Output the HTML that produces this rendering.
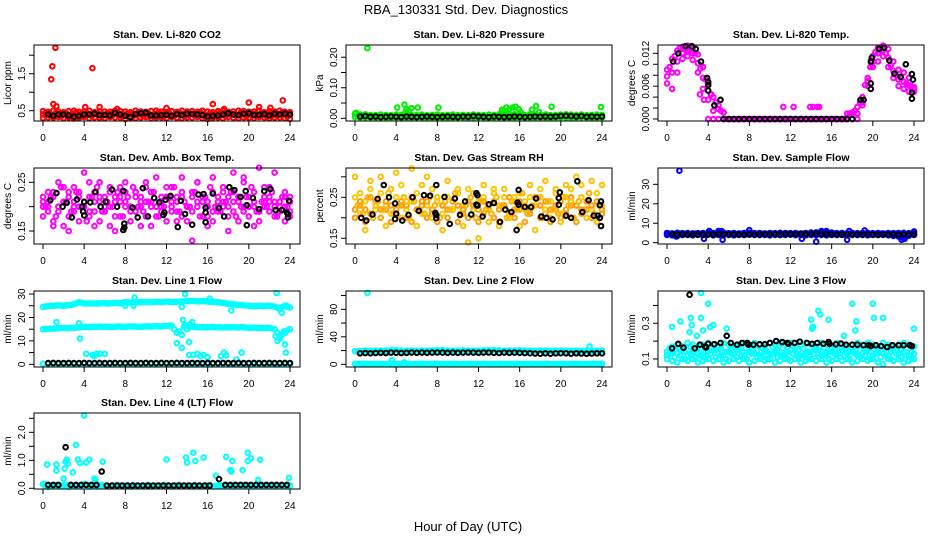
<!DOCTYPE html>
<html><head><meta charset="utf-8"><style>
html,body{margin:0;padding:0;background:#fff}
svg{display:block;font-family:"Liberation Sans",Arial,sans-serif}
</style></head><body>
<svg id="chart" width="936" height="540" viewBox="0 0 936 540" xmlns="http://www.w3.org/2000/svg">
<rect x="0" y="0" width="936" height="540" fill="#fff"/>
<text x="466" y="14" font-size="13" text-anchor="middle">RBA_130331  Std. Dev. Diagnostics</text>
<text x="468" y="531" font-size="13" text-anchor="middle">Hour of Day (UTC)</text>
</svg>
<script>
// ---- shared time grid (hours) ----
const t49 = [0,0.5,1,1.5,2,2.5,3,3.5,4,4.5,5,5.5,6,6.5,7,7.5,8,8.5,9,9.5,10,10.5,11,11.5,12,12.5,13,13.5,14,14.5,15,15.5,16,16.5,17,17.5,18,18.5,19,19.5,20,20.5,21,21.5,22,22.5,23,23.5,24];
const tq = [0.25,0.75,1.25,1.75,2.25,2.75,3.25,3.75,4.25,4.75,5.25,5.75,6.25,6.75,7.25,7.75,8.25,8.75,9.25,9.75,10.25,10.75,11.25,11.75,12.25,12.75,13.25,13.75,14.25,14.75,15.25,15.75,16.25,16.75,17.25,17.75,18.25,18.75,19.25,19.75,20.25,20.75,21.25,21.75,22.25,22.75,23.25,23.75];
const xTicks = [0,4,8,12,16,20,24];

// ---- Panel 1: CO2 ----
const co2Hi = [0.49,0.47,0.5,0.48,0.46,0.49,0.5,0.47,0.48,0.5,0.46,0.49,0.48,0.47,0.5,0.49,0.48,0.46,0.5,0.48,0.47,0.49,0.5,0.48,0.46,0.49,0.47,0.5,0.48,0.49,0.47,0.5,0.48,0.46,0.49,0.5,0.47,0.48,0.5,0.49,0.47,0.48,0.5,0.46,0.49,0.48,0.5,0.47,0.46];
const co2Mid = [0.4,0.42,0.39,0.41,0.4,0.38,0.42,0.4,0.41,0.39,0.42,0.4,0.38,0.41,0.42,0.39,0.4,0.41,0.38,0.42,0.4,0.39,0.41,0.4,0.42,0.38,0.4,0.41,0.39,0.42,0.4,0.41,0.38,0.4,0.42,0.39,0.41,0.4,0.38,0.42,0.4,0.41,0.39,0.4,0.42,0.38,0.41,0.4,0.39];
const co2Lo = [0.3,0.32,0.31,0.33,0.3,0.32,0.29,0.31,0.33,0.3,0.32,0.31,0.3,0.33,0.31,0.32,0.28,0.31,0.3,0.32,0.33,0.3,0.31,0.32,0.3,0.33,0.31,0.3,0.32,0.31,0.33,0.3,0.28,0.31,0.32,0.3,0.33,0.31,0.3,0.32,0.31,0.3,0.33,0.32,0.3,0.31,0.32,0.3,0.28];
const co2Q = [0.44,0.36,0.45,0.35,0.43,0.37,0.46,0.34,0.44,0.36,0.45,0.35,0.43,0.37,0.46,0.34,0.44,0.36,0.45,0.35,0.43,0.37,0.46,0.34,0.44,0.36,0.45,0.35,0.43,0.37,0.46,0.34,0.44,0.36,0.45,0.35,0.43,0.37,0.46,0.34,0.44,0.36,0.45,0.35,0.43,0.37,0.46,0.34];
const co2OutX = [0.8,0.9,1.2,4.8,1.0,1.3,4.1,5.5,7.2,16.5,20,21,22.1,23.3,12,17.6];
const co2OutY = [1.35,1.7,2.2,1.65,0.68,0.62,0.6,0.6,0.55,0.68,0.72,0.6,0.58,0.78,0.57,0.55];
const co2Blk = [0.4,0.36,0.4,0.4,0.37,0.34,0.36,0.4,0.4,0.42,0.38,0.39,0.37,0.44,0.4,0.36,0.33,0.41,0.43,0.45,0.37,0.37,0.38,0.39,0.36,0.41,0.38,0.42,0.41,0.4,0.38,0.34,0.36,0.37,0.4,0.43,0.4,0.38,0.42,0.43,0.38,0.39,0.41,0.37,0.42,0.4,0.42,0.4];

// ---- Panel 2: Pressure ----
const presHi = [0.015,0.012,0.013,0.011,0.01,0.012,0.011,0.01,0.012,0.011,0.013,0.01,0.011,0.012,0.01,0.011,0.012,0.01,0.011,0.012,0.01,0.011,0.01,0.012,0.011,0.01,0.012,0.011,0.013,0.012,0.014,0.013,0.012,0.011,0.013,0.012,0.011,0.012,0.01,0.011,0.012,0.013,0.012,0.011,0.012,0.01,0.011,0.012,0.011];
const presLo = [0.004,0.003,0.002,0.003,0.002,0.003,0.001,0.002,0.003,0.002,0.001,0.002,0.003,0.002,0.001,0.002,0.003,0.002,0.001,0.002,0.003,0.002,0.001,0.002,0.003,0.002,0.001,0.002,0.003,0.002,0.001,0.002,0.003,0.002,0.001,0.002,0.003,0.002,0.001,0.002,0.003,0.002,0.001,0.002,0.003,0.002,0.001,0.002,0.003];
const presQ = [0.008,0.006,0.007,0.005,0.008,0.006,0.007,0.005,0.008,0.006,0.007,0.005,0.008,0.006,0.007,0.005,0.008,0.006,0.007,0.005,0.008,0.006,0.007,0.005,0.008,0.006,0.007,0.005,0.008,0.006,0.007,0.005,0.008,0.006,0.007,0.005,0.008,0.006,0.007,0.005,0.008,0.006,0.007,0.005,0.008,0.006,0.007,0.005];
const presOutX = [1.2,0.1,4.1,4.8,5.0,5.2,5.5,6.1,8.1,14.3,14.7,15.0,15.3,15.6,15.9,17.2,17.6,17.9,19.1,23.9,4.9,18.6,14.5,16.1];
const presOutY = [0.23,0.018,0.035,0.045,0.03,0.025,0.033,0.035,0.035,0.028,0.035,0.03,0.035,0.038,0.03,0.028,0.04,0.02,0.038,0.037,0.02,0.012,0.025,0.02];
const presBlk = [0.006,0.007,0.005,0.006,0.004,0.005,0.006,0.005,0.004,0.006,0.005,0.004,0.005,0.006,0.005,0.004,0.005,0.006,0.005,0.004,0.006,0.005,0.007,0.006,0.005,0.004,0.006,0.005,0.004,0.005,0.006,0.005,0.004,0.005,0.006,0.005,0.006,0.005,0.006,0.007,0.008,0.007,0.006,0.007,0.005,0.006,0.005,0.006];

// ---- Panel 3: Li-820 Temp ----
const tmpHi = [0.009,0.011,0.0125,0.0132,0.0134,0.013,0.0118,0.0095,0.0065,0.004,0.0025,0.0012,0,0,0,0,0,0,0,0,0,0,0,0,0,0,0,0,0,0,0,0,0,0,0,0,0.0012,0.0022,0.004,0.0075,0.0115,0.013,0.0134,0.0128,0.0105,0.009,0.0085,0.0075,0.0055];
const tmpMid = [0.0078,0.0085,0.0105,0.012,0.0125,0.012,0.0102,0.0075,0,0,0,0,0,0,0,0,0,0,0,0,0,0,0,0,0,0,0,0,0,0,0,0,0,0,0,0,0,0,0.003,0.007,0.0105,0.012,0.0125,0.0112,0.0088,0.0072,0.0068,0.0062,0.0058];
const tmpLo = [0.0065,0.0055,0.0085,0.011,0.0115,0.0108,0.0085,0.0055,0.0035,0.0015,0.0018,0.0012,0,0,0,0,0,0,0,0,0,0,0,0,0,0,0,0,0,0,0,0,0,0,0,0.001,0.001,0.001,0.0025,0.006,0.0095,0.0105,0.0115,0.0095,0.0075,0.006,0.0055,0.005,0.005];
const tmpQ = [0.0095,0.0115,0.013,0.0128,0.0125,0.012,0.0092,0.0072,0.0045,0.003,0.0015,0,0,0,0,0,0,0,0,0,0,0,0,0,0,0,0,0,0,0,0,0,0,0,0,0.001,0.0015,0.003,0.0062,0.0095,0.0122,0.0128,0.012,0.0098,0.008,0.0075,0.0065,0.006];
const tmpOutX = [11.3,12.3,13.9,14.2,14.6,14.8,3.2,3.6,4.3];
const tmpOutY = [0.0022,0.0022,0.0022,0.0022,0.0022,0.0022,0.0045,0.0035,0.0045];
const tmpBlkX = [0.6,1.1,1.8,2.4,2.8,3.3,3.9,4.0,4.0,4.0,4.6,5.2,5.5,6,6.5,7,7.5,8,8.5,9,9.5,10,10.5,11,11.5,12,12.5,13,13.5,14,14.5,15,15.5,16,16.5,17,17.5,18,18.8,19.1,19.8,19.8,19.9,19.8,20.6,21.1,21.6,22.1,22.7,23.2,23.8,23.9,23.8,23.8];
const tmpBlkY = [0.0105,0.012,0.0133,0.0133,0.0128,0.0105,0.0075,0.0068,0.0062,0.0052,0.0025,0.0035,0,0,0,0,0,0,0,0,0,0,0,0,0,0,0,0,0,0,0,0,0,0,0,0,0,0,0.0035,0.0035,0.0065,0.0105,0.0112,0.0055,0.0128,0.013,0.0107,0.0083,0.0077,0.01,0.0082,0.0072,0.0048,0.0037];

// ---- Panel 4: Amb. Box Temp ----
const ambA = [0.22,0.19,0.23,0.2,0.24,0.18,0.21,0.23,0.2,0.25,0.19,0.22,0.2,0.23,0.18,0.24,0.21,0.19,0.23,0.22,0.25,0.2,0.18,0.22,0.24,0.21,0.19,0.23,0.2,0.22,0.25,0.21,0.18,0.23,0.2,0.24,0.22,0.19,0.21,0.26,0.2,0.23,0.19,0.22,0.24,0.2,0.21,0.23,0.19];
const ambB = [0.18,0.21,0.17,0.2,0.16,0.22,0.19,0.17,0.2,0.18,0.21,0.17,0.19,0.16,0.21,0.18,0.2,0.17,0.19,0.21,0.18,0.16,0.2,0.19,0.17,0.2,0.22,0.18,0.17,0.19,0.21,0.18,0.2,0.17,0.19,0.2,0.18,0.21,0.17,0.19,0.18,0.2,0.17,0.21,0.19,0.18,0.2,0.17,0.18];
const ambC = [0.2,0.23,0.16,0.25,0.21,0.15,0.24,0.2,0.27,0.22,0.16,0.25,0.2,0.24,0.15,0.22,0.25,0.2,0.23,0.16,0.24,0.21,0.26,0.2,0.22,0.24,0.17,0.26,0.2,0.13,0.25,0.22,0.16,0.26,0.21,0.23,0.15,0.27,0.22,0.25,0.2,0.16,0.28,0.24,0.21,0.27,0.19,0.22,0.21];
const ambD = [0.21,0.2,0.22,0.19,0.21,0.23,0.2,0.22,0.21,0.19,0.23,0.21,0.22,0.2,0.22,0.21,0.23,0.2,0.22,0.2,0.21,0.23,0.2,0.21,0.22,0.19,0.21,0.22,0.2,0.23,0.2,0.22,0.21,0.19,0.22,0.21,0.2,0.23,0.22,0.2,0.22,0.21,0.19,0.2,0.22,0.21,0.2,0.2,0.22];
const ambQ = [0.2,0.22,0.18,0.24,0.21,0.19,0.23,0.2,0.17,0.22,0.24,0.19,0.21,0.2,0.23,0.18,0.22,0.24,0.2,0.19,0.21,0.23,0.18,0.2,0.22,0.24,0.19,0.21,0.2,0.23,0.18,0.22,0.24,0.2,0.19,0.21,0.23,0.18,0.2,0.22,0.24,0.19,0.21,0.2,0.23,0.18,0.22,0.2];
const ambBlkX = [0.7,1.3,1.9,2.3,2.8,3.3,3.8,3.9,4.0,4.0,4.6,5.1,5.6,6.1,6.7,7.2,7.8,7.9,7.9,7.8,8.7,9.2,9.7,10.2,10.8,11.3,11.9,11.8,11.7,12.4,13.1,13.4,13.8,14.5,15.1,15.6,15.8,15.8,15.8,16.5,17.1,17.6,18.1,18.6,19.2,19.7,19.8,19.8,20.4,21.0,21.5,22.1,22.6,23.2,23.7,23.8,23.8,23.9];
const ambBlkY = [0.213,0.228,0.2,0.208,0.178,0.215,0.2,0.19,0.21,0.182,0.209,0.23,0.2,0.21,0.235,0.2,0.232,0.165,0.157,0.152,0.198,0.178,0.238,0.18,0.218,0.209,0.214,0.188,0.183,0.222,0.158,0.212,0.185,0.163,0.225,0.226,0.198,0.188,0.168,0.227,0.197,0.18,0.24,0.234,0.22,0.232,0.203,0.162,0.218,0.195,0.232,0.236,0.193,0.193,0.188,0.185,0.178,0.212];

// ---- Panel 5: Gas Stream RH ----
const rhA = [0.25,0.21,0.24,0.27,0.22,0.26,0.23,0.21,0.25,0.28,0.22,0.24,0.26,0.21,0.23,0.27,0.24,0.21,0.25,0.22,0.26,0.23,0.27,0.22,0.24,0.25,0.22,0.27,0.23,0.25,0.21,0.24,0.26,0.22,0.25,0.23,0.27,0.22,0.24,0.26,0.21,0.25,0.27,0.23,0.28,0.24,0.22,0.26,0.23];
const rhB = [0.2,0.23,0.19,0.21,0.24,0.2,0.22,0.19,0.21,0.23,0.2,0.19,0.22,0.24,0.2,0.21,0.19,0.23,0.2,0.22,0.19,0.21,0.2,0.23,0.19,0.21,0.22,0.2,0.19,0.23,0.21,0.2,0.22,0.19,0.21,0.23,0.2,0.21,0.19,0.22,0.2,0.21,0.23,0.19,0.21,0.22,0.2,0.19,0.21];
const rhC = [0.3,0.26,0.17,0.29,0.23,0.3,0.18,0.27,0.31,0.2,0.24,0.32,0.18,0.28,0.3,0.2,0.25,0.17,0.29,0.22,0.27,0.18,0.14,0.26,0.15,0.28,0.19,0.26,0.18,0.27,0.2,0.25,0.18,0.24,0.28,0.17,0.25,0.29,0.2,0.27,0.19,0.28,0.24,0.3,0.25,0.2,0.29,0.19,0.28];
const rhD = [0.22,0.24,0.22,0.25,0.23,0.22,0.24,0.23,0.22,0.24,0.23,0.25,0.22,0.23,0.24,0.22,0.25,0.23,0.22,0.24,0.23,0.22,0.24,0.23,0.22,0.24,0.23,0.24,0.22,0.23,0.25,0.22,0.24,0.23,0.22,0.25,0.23,0.24,0.22,0.23,0.24,0.22,0.25,0.23,0.22,0.24,0.23,0.24,0.22];
const rhQ = [0.23,0.21,0.25,0.2,0.24,0.22,0.26,0.21,0.23,0.25,0.2,0.24,0.22,0.21,0.25,0.23,0.2,0.24,0.22,0.26,0.21,0.23,0.25,0.2,0.24,0.22,0.21,0.25,0.23,0.2,0.24,0.22,0.26,0.21,0.23,0.25,0.2,0.24,0.22,0.21,0.25,0.23,0.2,0.24,0.22,0.26,0.21,0.23];
const rhBlkX = [0.6,1.1,1.7,2.2,2.8,3.3,3.9,4.0,3.9,4.6,5.2,5.6,6.2,6.7,7.3,7.8,7.9,7.9,7.9,8.7,9.2,9.7,10.2,10.7,11.3,11.8,11.9,11.9,11.8,12.4,13.0,13.5,14.1,14.6,15.2,15.7,15.8,15.9,15.9,16.5,17.1,17.6,18.1,18.6,19.2,19.8,19.8,19.9,20.5,21.0,21.6,22.1,22.7,23.2,23.6,23.8,23.8,23.9,23.9];
const rhBlkY = [0.2,0.193,0.208,0.246,0.28,0.25,0.235,0.21,0.197,0.193,0.207,0.25,0.217,0.255,0.254,0.212,0.207,0.199,0.28,0.251,0.185,0.247,0.207,0.24,0.208,0.232,0.23,0.255,0.26,0.203,0.233,0.236,0.19,0.22,0.214,0.17,0.237,0.232,0.268,0.226,0.226,0.247,0.203,0.2,0.196,0.232,0.248,0.262,0.205,0.2,0.289,0.214,0.243,0.205,0.205,0.231,0.2,0.18,0.24];

// ---- Panel 6: Sample Flow ----
const sfHi = [5,4.8,5.1,4.9,5,4.8,4.9,5,5.2,5,5.3,5.1,4.9,5,4.8,5,5.1,4.9,5,4.8,5,4.9,5.1,5,4.9,5,4.8,5,5.2,5.3,5.5,5.4,5.2,4.9,5,4.8,5,4.9,5,5.1,4.9,5,4.8,5,4.9,5,5.1,4.9,5.2];
const sfLo = [4,3.8,3.5,3.9,4,3.8,4,3.9,4.1,3.8,4,3.9,4,3.8,4,3.9,4.1,4,3.9,4,3.8,4,3.9,4,4.1,3.9,4,3.8,4,3.9,4,3.8,4,3.9,4,3.8,4,3.9,4,3.8,4,3.9,4,3.8,3.5,3.2,3,3.6,4];
const sfQ = [4.5,4.4,4.6,4.5,4.4,4.6,4.5,4.4,4.6,4.5,4.4,4.6,4.5,4.4,4.6,4.5,4.4,4.6,4.5,4.4,4.6,4.5,4.4,4.6,4.5,4.4,4.6,4.5,4.4,4.6,4.5,4.4,4.6,4.5,4.4,4.6,4.5,4.4,4.6,4.5,4.4,4.6,4.5,4.4,4.6,4.5,4.4,4.6];
const sfOutX = [1.2,3.6,5.4,13.1,14.5,17.5,22.8,22.9,23.1,4.1,5.0,5.3,8.0,15.0,15.5,17.7,19.2,24.0,0.1,0.9];
const sfOutY = [37,2,1.5,2,0.5,1.5,1.5,2.5,2,6,6,6,6.5,6,6,6,6.3,5.8,4.8,3.2];
const sfBlk = [4.4,4.2,4.3,4.2,4.3,4.1,4.2,4.3,4.2,4.4,4.3,4.2,4.3,4.2,4.1,4.3,4.2,4.3,4.4,4.3,4.4,4.3,4.5,4.4,4.3,4.4,4.5,4.4,4.6,4.5,4.4,4.3,4.3,4.2,4.3,4.2,4.3,4.2,4.3,4.1,4.2,4.3,4.2,4.3,4.2,4.3,4.4,4.3];

// ---- Panel 7: Line 1 Flow ----
const l1Top = [24.5,24.8,25,25.2,25,25.3,25.6,26.5,26,26,25.9,26,26.1,26,26.2,26,26.5,26.4,26.6,26.5,26.6,26.5,26.7,26.6,26.8,26.6,26.7,26.8,27,27.1,26.9,27,26.8,26.6,26.5,26.2,25.8,25.6,25.4,25.2,25,24.8,25,24.9,25,24.6,23.5,25,24.2];
const l1TopQ = [24.7,25,25.1,25.1,25.2,25.4,26,26.3,26,26,26,26.1,26,26.1,26.2,26.4,26.5,26.5,26.5,26.6,26.5,26.6,26.7,26.7,26.7,26.6,26.8,26.9,27,27,26.9,26.9,26.7,26.5,26.4,26,25.7,25.5,25.3,25.1,24.9,24.9,25,25,24.8,24.2,24.5,24.6];
const l1Mid = [15,15.2,15.3,15.4,15.5,15.5,15.6,15.8,16,15.9,16,16.1,16,15.9,16,16.1,16,16.2,16.1,16,16.2,16.1,16.3,16.2,16.4,16.5,13.5,12.5,16.5,16,15.8,15.9,15.8,15.9,15.8,15.7,15.8,15.9,15.7,15.8,15.6,15.7,15.6,15.5,15.6,15,12,13.5,15];
const l1MidQ = [15.1,15.2,15.3,15.5,15.5,15.6,15.7,15.9,16,16,16,16,16,16,16.1,16,16.1,16.1,16,16.1,16.2,16.2,16.2,16.3,16.5,15,14,16.8,16.2,15.9,15.8,15.8,15.9,15.8,15.8,15.8,15.8,15.8,15.8,15.7,15.6,15.6,15.5,15.6,15.3,13.5,12.8,14.5];
const l1Zero = [0.2,0.1,0.2,0.1,0.1,0.2,0.1,0.1,0.2,0.1,0.2,0.1,0.1,0.2,0.1,0.2,0.1,0.1,0.2,0.1,0.2,0.1,0.1,0.2,0.1,0.2,0.1,0.1,0.2,0.1,0.2,0.1,0.1,0.2,0.1,0.2,0.1,0.1,0.2,0.1,0.2,0.1,0.1,0.2,0.1,0.2,0.1,0.1,0.2];
const l1OutX = [1.3,3.5,3.6,4.2,4.8,5.0,5.2,5.5,6.0,8.0,8.9,8.8,13.0,13.5,13.6,13.8,13.5,14.0,14.2,14.2,14.5,14.6,15.0,15.3,15.6,16.0,16.2,17.3,17.6,17.8,18.3,18.8,19.3,22.7,22.6,22.8,23.0,23.2,23.5,23.6,23.4,23.7,14.3,13.7];
const l1OutY = [18,17.5,11,4.5,4,3.5,4.5,4.5,4.5,25,28.5,25,9,7,19,30,24.5,15,9.5,4,18,4,4.5,3.5,4,3,28,3.5,5,3.8,23,2,5,30.5,12,10,11,22,8.5,5,14,25,17,16];
const l1Blk = [0.5,0.6,0.5,0.5,0.6,0.5,0.5,0.6,0.5,0.5,0.6,0.5,0.5,0.6,0.5,0.5,0.6,0.5,0.5,0.6,0.5,0.5,0.6,0.5,0.5,0.6,0.5,0.5,0.6,0.5,0.5,0.6,0.5,0.5,0.6,0.5,0.5,0.6,0.5,0.5,0.6,0.5,0.5,0.6,0.5,0.5,0.6,0.5];

// ---- Panel 8: Line 2 Flow ----
const l2Top = [19,19.5,20,19.5,20,19.8,20,21,20.5,20,19.8,20,19.5,20,19.8,20,20.5,20.8,20,19.8,20,20.2,20,19.8,20,20.2,20.5,20.8,20.4,20,20.2,20,20.5,20,19.8,19.5,19.8,20,19.6,19.8,20,19.6,19.5,19.8,19.6,19.8,19.5,19.8,20];
const l2TopQ = [18.5,19,19.2,19,19.3,19.1,19.5,20,19.6,19.4,19.3,19.1,19.4,19.2,19.6,19.8,20,19.6,19.3,19.5,19.7,19.4,19.2,19.5,19.7,20,20.1,19.8,19.5,19.6,19.4,19.8,19.5,19.2,19,19.1,19.4,19.2,19.3,19.5,19.2,19,19.3,19.1,19.2,19,19.2,19.4];
const l2Bot = [0.8,0.5,0.8,0.6,0.8,0.5,0.6,0.8,0.5,0.6,0.8,0.5,0.6,0.8,0.5,0.6,0.8,0.5,0.6,0.8,0.5,0.6,0.8,0.5,0.6,0.8,0.5,0.6,0.8,0.5,0.6,0.8,0.5,0.6,0.8,0.5,0.6,0.8,0.5,0.6,0.8,0.5,0.6,0.8,0.5,0.6,0.8,0.5,0.8];
const l2BotQ = [0.6,0.7,0.5,0.6,0.7,0.5,0.6,0.7,0.5,0.6,0.7,0.5,0.6,0.7,0.5,0.6,0.7,0.5,0.6,0.7,0.5,0.6,0.7,0.5,0.6,0.7,0.5,0.6,0.7,0.5,0.6,0.7,0.5,0.6,0.7,0.5,0.6,0.7,0.5,0.6,0.7,0.5,0.6,0.7,0.5,0.6,0.7,0.5];
const l2OutX = [1.2,3.6,4.8,22.8];
const l2OutY = [104,6,3,26];
const l2Blk = [16,16.5,16,16.5,16.8,16.5,17,16.8,16.5,16.8,17,16.8,17,16.8,17,17.2,17,16.8,17,16.8,17,17.2,17,16.8,17,17.2,16.8,16.5,17,16.8,17,16.8,16.5,16.2,15.8,15.5,16,15.5,16,16.2,16,15.5,16,15.8,15.5,15.8,16,16];

// ---- Panel 9: Line 3 Flow ----
const l3Hi = [0.14,0.17,0.18,0.17,0.19,0.18,0.17,0.18,0.19,0.18,0.17,0.19,0.18,0.17,0.18,0.19,0.18,0.19,0.18,0.17,0.19,0.18,0.19,0.18,0.19,0.17,0.18,0.19,0.18,0.17,0.19,0.18,0.17,0.19,0.18,0.17,0.18,0.19,0.18,0.19,0.18,0.17,0.19,0.18,0.17,0.18,0.19,0.18,0.17];
const l3Mid = [0.12,0.14,0.13,0.15,0.12,0.14,0.13,0.12,0.14,0.15,0.13,0.12,0.14,0.13,0.15,0.12,0.14,0.13,0.12,0.15,0.13,0.14,0.12,0.13,0.15,0.14,0.12,0.13,0.14,0.15,0.12,0.13,0.14,0.12,0.15,0.13,0.14,0.12,0.13,0.15,0.12,0.14,0.13,0.12,0.15,0.13,0.14,0.12,0.13];
const l3Lo = [0.1,0.09,0.08,0.1,0.09,0.1,0.08,0.09,0.1,0.09,0.1,0.08,0.09,0.1,0.09,0.1,0.08,0.09,0.1,0.09,0.1,0.08,0.09,0.1,0.09,0.1,0.08,0.09,0.1,0.09,0.1,0.08,0.09,0.1,0.09,0.1,0.08,0.09,0.1,0.09,0.1,0.08,0.07,0.1,0.09,0.1,0.08,0.09,0.1];
const l3Q1 = [0.16,0.11,0.16,0.1,0.17,0.11,0.16,0.1,0.17,0.11,0.16,0.1,0.17,0.11,0.16,0.1,0.17,0.11,0.16,0.1,0.17,0.11,0.16,0.1,0.17,0.11,0.16,0.1,0.17,0.11,0.16,0.1,0.17,0.11,0.16,0.1,0.17,0.11,0.16,0.1,0.17,0.11,0.16,0.1,0.17,0.11,0.16,0.1];
const l3Q2 = [0.13,0.15,0.12,0.14,0.13,0.15,0.12,0.14,0.13,0.15,0.12,0.14,0.13,0.15,0.12,0.14,0.13,0.15,0.12,0.14,0.13,0.15,0.12,0.14,0.13,0.15,0.12,0.14,0.13,0.15,0.12,0.14,0.13,0.15,0.12,0.14,0.13,0.15,0.12,0.14,0.13,0.15,0.12,0.14,0.13,0.15,0.12,0.14];
const l3OutX = [0.5,1.3,2.2,2.3,2.4,2.9,3.3,3.3,3.5,4.0,4.2,4.5,5.8,14.0,14.1,14.2,14.7,14.9,15.7,17.2,18.0,18.3,18.4,20.0,20.1,21.0,24.0];
const l3OutY = [0.28,0.31,0.25,0.33,0.29,0.23,0.47,0.33,0.26,0.41,0.28,0.29,0.27,0.32,0.27,0.28,0.37,0.35,0.32,0.23,0.41,0.26,0.31,0.41,0.33,0.33,0.27];
const l3BlkX = [0.5,1.1,1.6,2.2,2.7,3.2,3.7,3.8,4.0,4.6,5.2,5.8,6.2,6.8,7.3,7.8,7.9,8.4,9,9.5,10,10.6,11.2,11.7,11.8,12.4,12.9,13.6,14.1,14.6,15.2,15.7,15.8,16.4,16.9,17.4,18,18.5,19.1,19.6,19.8,20.3,20.8,21.4,21.9,22.5,23,23.6,23.8];
const l3BlkY = [0.16,0.185,0.163,0.46,0.16,0.18,0.17,0.165,0.185,0.183,0.19,0.23,0.19,0.18,0.19,0.19,0.18,0.18,0.183,0.183,0.19,0.2,0.195,0.19,0.185,0.19,0.197,0.19,0.185,0.19,0.185,0.195,0.185,0.182,0.187,0.18,0.18,0.18,0.177,0.177,0.172,0.177,0.172,0.167,0.177,0.177,0.177,0.177,0.172];

// ---- Panel 10: Line 4 (LT) Flow ----
const l4Band = [0.15,0.05,0.1,0.08,0.12,0.05,0.1,0.08,0.15,0.06,0.1,0.08,0.1,0.06,0.1,0.08,0.1,0.06,0.1,0.08,0.1,0.06,0.1,0.08,0.1,0.06,0.1,0.08,0.1,0.06,0.1,0.08,0.1,0.06,0.1,0.08,0.1,0.06,0.1,0.08,0.1,0.06,0.1,0.08,0.1,0.06,0.1,0.08,0.1];
const l4BandQ = [0.08,0.1,0.12,0.08,0.1,0.12,0.08,0.1,0.12,0.08,0.1,0.12,0.08,0.1,0.12,0.08,0.1,0.12,0.08,0.1,0.12,0.08,0.1,0.12,0.08,0.1,0.12,0.08,0.1,0.12,0.08,0.1,0.12,0.08,0.1,0.12,0.08,0.1,0.12,0.08,0.1,0.12,0.08,0.1,0.12,0.08,0.1,0.12];
const l4OutX = [0.1,0.4,1.3,1.3,2.0,2.1,2.2,2.3,2.4,2.9,3.2,3.4,3.6,4.0,4.2,4.5,5.0,5.1,5.8,12.0,13.9,14.0,14.6,14.8,15.6,16.8,17.8,18.2,18.3,18.4,19.4,19.9,19.9,20.2,20.9,21.1,23.9];
const l4OutY = [0.15,0.85,0.85,0.63,0.35,0.7,0.95,1.02,0.88,0.57,1.55,1.03,0.9,2.6,0.92,1.02,0.35,0.28,0.95,1.03,1.1,0.92,1.27,0.98,1.1,0.45,1.12,0.65,0.6,0.97,0.65,1.27,0.98,1.07,0.3,1.02,0.37];
const l4BlkX = [0.5,1,1.5,2.2,2.7,3.2,3.7,4.2,4.7,5.2,5.7,6.2,6.7,7.2,7.7,8.2,8.7,9.2,9.7,10.2,10.7,11.2,11.7,12.2,12.7,13.2,13.7,14.2,14.7,15.2,15.7,16.2,17.1,17.7,18.2,18.7,19.2,19.7,20.2,20.7,21.2,21.7,22.2,22.7,23.2,23.7];
const l4BlkY = [0.12,0.12,0.12,1.47,0.12,0.12,0.12,0.12,0.12,0.12,0.6,0.1,0.1,0.1,0.1,0.1,0.1,0.1,0.1,0.1,0.1,0.1,0.1,0.1,0.1,0.1,0.1,0.1,0.1,0.1,0.1,0.1,0.33,0.12,0.12,0.12,0.12,0.12,0.12,0.12,0.12,0.12,0.12,0.12,0.12,0.12];

// ================= rendering =================
const svg = document.getElementById('chart');
const NS = 'http://www.w3.org/2000/svg';
const COLS = [34, 346, 658];
const ROWS = [45, 168, 291, 413];
const BW = 266, BH = 76;

function mk(tag, attrs, parent) {
  const e = document.createElementNS(NS, tag);
  for (const k in attrs) e.setAttribute(k, attrs[k]);
  (parent || svg).appendChild(e);
  return e;
}

const panels = [
  {key:'co2', title:'Stan. Dev. Li-820 CO2', ylab:'Licor ppm', col:0, row:0, ymin:0.222, ymax:2.276, ticks:[0.5,1.0,1.5,2.0], labels:['0.5','1.5'], labelVals:[0.5,1.5],
   series:[{x:t49,y:co2Lo,c:'#ff0000'},{x:t49,y:co2Mid,c:'#ff0000'},{x:t49,y:co2Hi,c:'#ff0000'},{x:tq,y:co2Q,c:'#ff0000'},{x:co2OutX,y:co2OutY,c:'#ff0000'},{x:t49.slice(1),y:co2Blk,c:'#000'}]},
  {key:'pressure', title:'Stan. Dev. Li-820 Pressure', ylab:'kPa', col:1, row:0, ymin:-0.0089, ymax:0.24, ticks:[0,0.05,0.1,0.15,0.2], labels:['0.00','0.10','0.20'], labelVals:[0,0.1,0.2],
   series:[{x:t49,y:presLo,c:'#00ee00'},{x:t49,y:presHi,c:'#00ee00'},{x:tq,y:presQ,c:'#00ee00'},{x:presOutX,y:presOutY,c:'#00ee00'},{x:t49.slice(1),y:presBlk,c:'#000'}]},
  {key:'li820-temp', title:'Stan. Dev. Li-820 Temp.', ylab:'degrees C', col:2, row:0, ymin:-0.00037, ymax:0.01352, ticks:[0,0.002,0.004,0.006,0.008,0.01,0.012], labels:['0.000','0.006','0.012'], labelVals:[0,0.006,0.012],
   series:[{x:t49,y:tmpLo,c:'#ff00ff'},{x:t49,y:tmpMid,c:'#ff00ff'},{x:t49,y:tmpHi,c:'#ff00ff'},{x:tq,y:tmpQ,c:'#ff00ff'},{x:tmpOutX,y:tmpOutY,c:'#ff00ff'},{x:tmpBlkX,y:tmpBlkY,c:'#000'}]},
  {key:'amb-box-temp', title:'Stan. Dev. Amb. Box Temp.', ylab:'degrees C', col:0, row:1, ymin:0.1233, ymax:0.2794, ticks:[0.15,0.2,0.25], labels:['0.15','0.25'], labelVals:[0.15,0.25],
   series:[{x:t49,y:ambB,c:'#ff00ff'},{x:t49,y:ambA,c:'#ff00ff'},{x:t49,y:ambD,c:'#ff00ff'},{x:tq,y:ambQ,c:'#ff00ff'},{x:t49,y:ambC,c:'#ff00ff'},{x:ambBlkX,y:ambBlkY,c:'#000'}]},
  {key:'gas-stream-rh', title:'Stan. Dev. Gas Stream RH', ylab:'percent', col:1, row:1, ymin:0.136, ymax:0.3215, ticks:[0.15,0.2,0.25,0.3], labels:['0.15','0.25'], labelVals:[0.15,0.25],
   series:[{x:t49,y:rhB,c:'#ff9a00'},{x:t49,y:rhA,c:'#ffc800'},{x:t49,y:rhD,c:'#ff9a00'},{x:tq,y:rhQ,c:'#ffb000'},{x:t49,y:rhC,c:'#ffc000'},{x:rhBlkX,y:rhBlkY,c:'#000'}]},
  {key:'sample-flow', title:'Stan. Dev. Sample Flow', ylab:'ml/min', col:2, row:1, ymin:-0.67, ymax:38.4, ticks:[0,10,20,30], labels:['0','10','20','30'], labelVals:[0,10,20,30],
   series:[{x:t49,y:sfLo,c:'#0000ff'},{x:t49,y:sfHi,c:'#0000ff'},{x:tq,y:sfQ,c:'#0000ff'},{x:sfOutX,y:sfOutY,c:'#0000ff'},{x:t49.slice(1),y:sfBlk,c:'#000'}]},
  {key:'line1-flow', title:'Stan. Dev. Line 1 Flow', ylab:'ml/min', col:0, row:2, ymin:-1.15, ymax:31.3, ticks:[0,5,10,15,20,25,30], labels:['0','10','20','30'], labelVals:[0,10,20,30],
   series:[{x:t49,y:l1Zero,c:'#00ffff'},{x:t49,y:l1Mid,c:'#00ffff'},{x:tq,y:l1MidQ,c:'#00ffff'},{x:t49,y:l1Top,c:'#00ffff'},{x:tq,y:l1TopQ,c:'#00ffff'},{x:l1OutX,y:l1OutY,c:'#00ffff'},{x:t49.slice(1),y:l1Blk,c:'#000'}]},
  {key:'line2-flow', title:'Stan. Dev. Line 2 Flow', ylab:'ml/min', col:1, row:2, ymin:-3.9, ymax:106.6, ticks:[0,20,40,60,80,100], labels:['0','40','80'], labelVals:[0,40,80],
   series:[{x:t49,y:l2Bot,c:'#00ffff'},{x:tq,y:l2BotQ,c:'#00ffff'},{x:t49,y:l2Top,c:'#00ffff'},{x:tq,y:l2TopQ,c:'#00ffff'},{x:l2OutX,y:l2OutY,c:'#00ffff'},{x:t49.slice(1),y:l2Blk,c:'#000'}]},
  {key:'line3-flow', title:'Stan. Dev. Line 3 Flow', ylab:'ml/min', col:2, row:2, ymin:0.055, ymax:0.481, ticks:[0.1,0.2,0.3,0.4], labels:['0.1','0.3'], labelVals:[0.1,0.3],
   series:[{x:t49,y:l3Lo,c:'#00ffff'},{x:t49,y:l3Mid,c:'#00ffff'},{x:t49,y:l3Hi,c:'#00ffff'},{x:tq,y:l3Q1,c:'#00ffff'},{x:tq,y:l3Q2,c:'#00ffff'},{x:l3OutX,y:l3OutY,c:'#00ffff'},{x:l3BlkX,y:l3BlkY,c:'#000'}]},
  {key:'line4-flow', title:'Stan. Dev. Line 4 (LT) Flow', ylab:'ml/min', col:0, row:3, ymin:-0.025, ymax:2.69, ticks:[0,0.5,1,1.5,2,2.5], labels:['0.0','1.0','2.0'], labelVals:[0,1,2],
   series:[{x:t49,y:l4Band,c:'#00ffff'},{x:tq,y:l4BandQ,c:'#00ffff'},{x:l4OutX,y:l4OutY,c:'#00ffff'},{x:l4BlkX,y:l4BlkY,c:'#000'}]}
];

panels.forEach(p => {
  const L = COLS[p.col], T = ROWS[p.row], B = T + BH;
  const xs = v => L + 9 + v / 24 * 247;
  const ys = v => B - (v - p.ymin) / (p.ymax - p.ymin) * BH;
  const g = mk('g', {});
  
  

  const title = mk('text', {x: L + BW / 2, y: T - 7, 'font-size': 10.5, 'font-weight': 'bold', 'text-anchor': 'middle'}, g);
  title.textContent = p.title;
  
  

  const yl = mk('text', {x: 0, y: 0, 'font-size': 10, 'text-anchor': 'middle', transform: `translate(${L - 23},${T + BH / 2}) rotate(-90)`}, g);
  yl.textContent = p.ylab;
  
  

  const pts = mk('g', {fill: 'none', 'stroke-width': 2}, g);
  
  
  p.series.forEach(s => {
    for (let i = 0; i < s.y.length; i++) {
      const c = mk('circle', {cx: xs(s.x[i]).toFixed(1), cy: ys(s.y[i]).toFixed(1), r: 2.3, stroke: s.c}, pts);
      
      
    }
  });

  const box = mk('rect', {x: L, y: T, width: BW, height: BH, fill: 'none', stroke: '#000', 'stroke-width': 1}, g);
  
  

  const xa = mk('g', {stroke: '#000', 'stroke-width': 1}, g);
  
  
  mk('line', {x1: xs(0), x2: xs(24), y1: B, y2: B}, xa);
  xTicks.forEach(v => {
    mk('line', {x1: xs(v), x2: xs(v), y1: B, y2: B + 5}, xa);
    const tx = mk('text', {x: xs(v), y: B + 20, 'font-size': 10, 'text-anchor': 'middle', stroke: 'none'}, xa);
    tx.textContent = String(v);
    
    
  });

  const ya = mk('g', {stroke: '#000', 'stroke-width': 1}, g);
  
  
  mk('line', {x1: L, x2: L, y1: ys(p.ticks[0]), y2: ys(p.ticks[p.ticks.length - 1])}, ya);
  p.ticks.forEach(v => mk('line', {x1: L - 5, x2: L, y1: ys(v), y2: ys(v)}, ya));
  p.labels.forEach((lab, i) => {
    const yy = ys(p.labelVals[i]);
    const tx = mk('text', {x: 0, y: 0, 'font-size': 10, 'text-anchor': 'middle', stroke: 'none', transform: `translate(${L - 9},${yy}) rotate(-90)`}, ya);
    tx.textContent = lab;
    
    
  });
});
</script>
</body></html>
